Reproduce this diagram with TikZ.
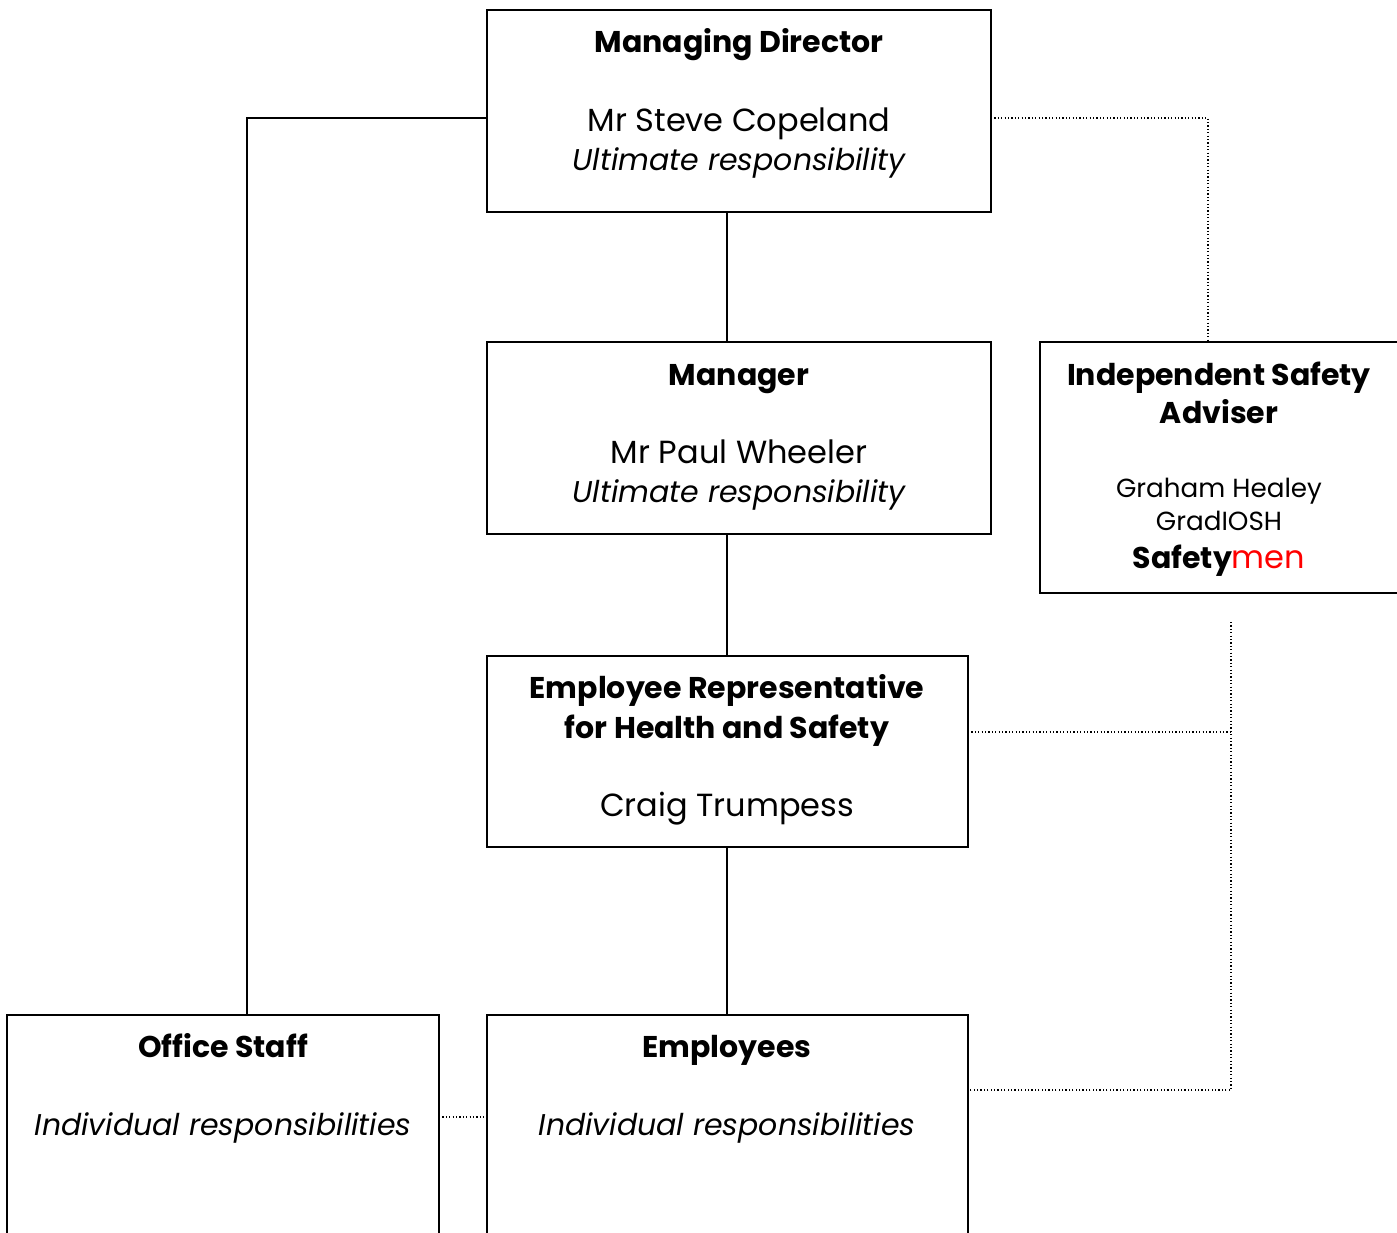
\documentclass[tikz,border=0pt]{standalone}
\usepackage{fontspec}
\setmainfont{Poppins}
\begin{document}
\begin{tikzpicture}[x=0.5pt,y=-0.5pt,
  box/.style={draw,line width=1pt,inner sep=0pt},
  solidline/.style={line width=1pt},
  dotline/.style={line width=1pt,dash pattern=on 0.6pt off 1.1pt},
  big/.style={font=\fontsize{16}{19}\selectfont,inner sep=0pt,anchor=base},
  bigb/.style={font=\fontsize{15}{18}\selectfont\bfseries,inner sep=0pt,anchor=base},
  bigi/.style={font=\fontsize{15}{18}\selectfont\itshape,inner sep=0pt,anchor=base},
  small/.style={font=\fontsize{13.1}{16}\selectfont,inner sep=0pt,anchor=base}]
\useasboundingbox (0,0) rectangle (1397,1232);
\clip (0,0) rectangle (1397,1232);
% boxes
\draw[box] (487,10) rectangle (991,212);
\coordinate (mdS) at (727,212);
\coordinate (mdL) at (487,118);
\coordinate (mdR) at (991,118);
\draw[box] (487,342) rectangle (991,534);
\coordinate (mgN) at (727,342);
\coordinate (mgS) at (727,534);
\draw[box] (1040,342) rectangle (1420,593);
\coordinate (isaN) at (1208,342);
\draw[box] (487,656) rectangle (968,847);
\coordinate (erN) at (727,656);
\coordinate (erS) at (727,847);
\coordinate (erR) at (968,732);
\draw[box] (7,1015) rectangle (439,1260);
\coordinate (ofN) at (247,1015);
\coordinate (ofR) at (439,1117);
\draw[box] (487,1015) rectangle (968,1260);
\coordinate (emN) at (727,1015);
\coordinate (emL) at (487,1117);
\coordinate (emR) at (968,1090);
% texts
\node[bigb] (t1) at (739,52) {Managing Director};
\node[big] (t2) at (739,131) {Mr Steve Copeland};
\node[bigi] (t3) at (739,170) {Ultimate responsibility};
\node[bigb] (t4) at (739,385) {Manager};
\node[big] (t5) at (739,463) {Mr Paul Wheeler};
\node[bigi] (t6) at (739,502) {Ultimate responsibility};
\node[bigb] (t7) at (1219,385) {Independent Safety};
\node[bigb] (t8) at (1219,423) {Adviser};
\node[small] (t9) at (1219,497) {Graham Healey};
\node[small] (t10) at (1219,530) {GradIOSH};
\node[big] (t11) at (1219,568) {\fontsize{15}{18}\selectfont\textbf{Safety}\textcolor{red}{\fontsize{16}{19}\selectfont men}};
\node[bigb] (t12) at (727,698) {Employee Representative};
\node[bigb] (t13) at (727,738) {for Health and Safety};
\node[big] (t14) at (727,816) {Craig Trumpess};
\node[bigb] (t15) at (223,1057) {Office Staff};
\node[bigi] (t16) at (223,1135) {Individual responsibilities};
\node[bigb] (t17) at (727,1057) {Employees};
\node[bigi] (t18) at (727,1135) {Individual responsibilities};
% connectors
\draw[solidline] (mdS) -- (mgN);
\draw[solidline] (mgS) -- (erN);
\draw[solidline] (erS) -- (emN);
\draw[solidline] (mdL) -| (ofN);
\draw[dotline] (mdR) -| (isaN);
\coordinate (vtop) at (1231,622);
\draw[dotline] (vtop) |- (emR);
\draw[dotline] (erR) -- (erR -| vtop);
\draw[dotline] (ofR) -- (emL);
\end{tikzpicture}
\end{document}
